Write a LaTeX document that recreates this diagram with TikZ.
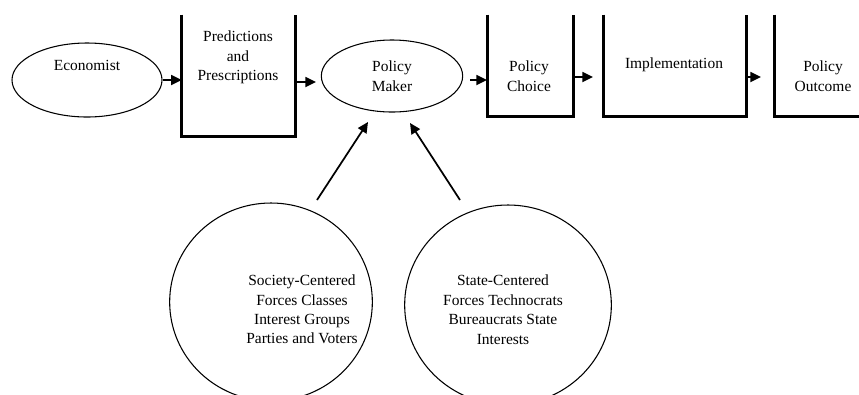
\documentclass[tikz,border=0pt]{standalone}
\usepackage{fontspec}
\setmainfont{Liberation Serif}
\usetikzlibrary{shapes.geometric,arrows.meta,calc}
\begin{document}
\begin{tikzpicture}[x=0.75pt,y=-0.75pt,
  txt/.style={font=\fontsize{11.6}{14.6}\selectfont, align=center, inner sep=0pt},
  oval/.style={ellipse, draw, line width=0.8pt, inner sep=0pt},
  ubox/.style={draw=none, rectangle, inner sep=0pt},
  uline/.style={line width=2.2pt},
  arr/.style={line width=1.3pt, -{Triangle[length=8pt,width=7.5pt]}}]
\useasboundingbox (0,0) rectangle (859,394);
\clip (0,0) rectangle (859,394);
% ovals
\node[oval, minimum width=112.5pt, minimum height=55.5pt] (econ) at (87,80) {};
\node[txt] (econt) at (87,65) {Economist};
\node[oval, minimum width=106pt, minimum height=54pt] (pm) at (392,76) {};
\node[txt] (pmt) at (392,76) {Policy\\Maker};
% U boxes
\node[ubox, minimum width=84.75pt, minimum height=90.75pt] (pred) at (238.5,75.5) {};
\node[txt] (predt) at (238,57.5) {Predictions\\and\\Prescriptions};
\node[ubox, minimum width=63.75pt, minimum height=75.75pt] (choice) at (530.5,65.5) {};
\node[txt] (choicet) at (529,76) {Policy\\Choice};
\node[ubox, minimum width=106.5pt, minimum height=75.75pt] (impl) at (675,65.5) {};
\node[txt] (implt) at (674,65) {Implementation};
\node[ubox, minimum width=90pt, minimum height=75.75pt] (outc) at (835,65.5) {};
\node[txt] (outct) at (823,76) {Policy\\Outcome};
\foreach \b in {pred,choice,impl,outc}
  \draw[uline] (\b.north west) -- (\b.south west) -- (\b.south east) -- (\b.north east);
% circles
\node[oval, minimum width=152pt, minimum height=148.5pt] (soc) at (271,302) {};
\node[txt] (soct) at (302,309.5) {Society-Centered\\Forces Classes\\Interest Groups\\Parties and Voters};
\node[oval, minimum width=155pt, minimum height=150pt] (st) at (508,305) {};
\node[txt] (stt) at (503,309.5) {State-Centered\\Forces Technocrats\\Bureaucrats State\\Interests};
% connector end points
\coordinate (a1) at (316,82);
\coordinate (a2s) at (470,80);
\coordinate (a2e) at (487,80);
\coordinate (a3e) at (593,77);
\coordinate (a4e) at (761,77);
\coordinate (s1) at (317,200);
\coordinate (s2) at (368,122);
\coordinate (t1) at (460,200);
\coordinate (t2) at (410,123);
% arrows
\draw[arr] (econ.east) -- (econ.east -| pred.west);
\draw[arr] (pred.east |- a1) -- (a1);
\draw[arr] (a2s) -- (a2e);
\draw[arr] (choice.east |- a3e) -- (a3e);
\draw[arr] (impl.east |- a4e) -- (a4e);
\draw[arr] (s1) -- (s2);
\draw[arr] (t1) -- (t2);
\end{tikzpicture}
\end{document}
